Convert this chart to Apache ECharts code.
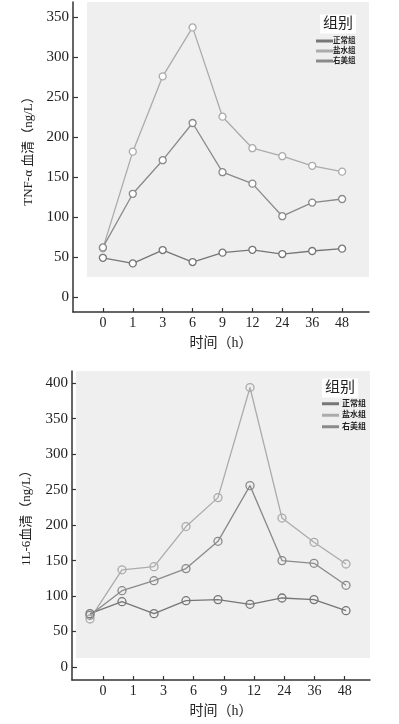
<!DOCTYPE html>
<html>
<head>
<meta charset="utf-8">
<script src="https://cdn.jsdelivr.net/npm/echarts@6/dist/echarts.min.js"></script>
<style>
  html, body { margin: 0; padding: 0; background: #fff; }
  #chart { width: 399px; height: 724px; }
</style>
</head>
<body>
<div id="chart"></div>
<script>
const cats = ["0", "1", "3", "6", "9", "12", "24", "36", "48"];
const groupNames = ["正常组", "盐水组", "右美组"];
const groupColors = ["#767676", "#ababab", "#8a8a8a"];

const tnfNormal = [49, 42, 58.7, 43.7, 55.4, 59, 53.7, 57.5, 60.4];
const tnfSaline = [60.8, 181.7, 275.8, 337, 225.4, 186, 176, 164, 156.7];
const tnfDex = [62, 129, 171, 217.5, 156, 141.7, 101, 118, 122.5];

const il6Normal = [75.2, 92.1, 75.2, 93.5, 95, 88.4, 97.3, 95, 79.4];
const il6Saline = [67.7, 137, 141.5, 198, 238.8, 394, 210, 175.8, 145.2];
const il6Dex = [72.9, 107.6, 121.7, 138.7, 177.2, 255.7, 150, 146.2, 115.2];

const tnfTicks = [0, 50, 100, 150, 200, 250, 300, 350];
const il6Ticks = [0, 50, 100, 150, 200, 250, 300, 350, 400];
const catIdx = cats.map((c, i) => i);

const serif = "Liberation Serif, DejaVu Serif, serif";
const cjk = "Liberation Serif, Noto Sans CJK SC, sans-serif";

const chart = echarts.init(document.getElementById("chart"));

function pairs(arr) {
  return arr.map((v, i) => [i, v]);
}

function yAxisOf(gridIndex, min, max, ticks) {
  return {
    gridIndex: gridIndex,
    type: "value",
    min: min,
    max: max,
    splitLine: { show: false },
    axisLine: { show: true, onZero: false, lineStyle: { color: "#333", width: 1.5 } },
    axisTick: { show: true, inside: true, length: 5, customValues: ticks, lineStyle: { color: "#333", width: 1.2 } },
    axisLabel: { customValues: ticks, margin: 4, color: "#222", fontSize: 15, fontFamily: serif },
  };
}

function catAxisOf(gridIndex, min, max) {
  return {
    gridIndex: gridIndex,
    type: "value",
    min: min,
    max: max,
    splitLine: { show: false },
    axisLine: { show: true, onZero: false, lineStyle: { color: "#333", width: 1.5 } },
    axisTick: { show: true, inside: true, length: 4, customValues: catIdx, lineStyle: { color: "#333", width: 1.2 } },
    axisLabel: {
      customValues: catIdx,
      margin: 4,
      color: "#222",
      fontSize: 14,
      fontFamily: serif,
      formatter: (v) => cats[Math.round(v)],
    },
  };
}

function lineSeries(name, color, xi, yi, data, size, fill) {
  return {
    name: name,
    type: "line",
    xAxisIndex: xi,
    yAxisIndex: yi,
    z: 3,
    data: pairs(data),
    symbol: "circle",
    symbolSize: size,
    lineStyle: { color: color, width: 1.3 },
    itemStyle: { color: fill, borderColor: color, borderWidth: 1.3 },
    emphasis: { disabled: true },
  };
}

function bgSeries(xi, yi, from, to) {
  return {
    type: "line",
    xAxisIndex: xi,
    yAxisIndex: yi,
    z: 1,
    data: [],
    markArea: {
      silent: true,
      itemStyle: { color: "#efefef" },
      data: [[{ xAxis: from[0], yAxis: from[1] }, { xAxis: to[0], yAxis: to[1] }]],
    },
  };
}

function legendOf(left, top, size, lh, gap) {
  return {
    orient: "vertical",
    left: left,
    top: top,
    padding: 0,
    itemGap: 0,
    icon: "rect",
    itemWidth: 15,
    itemHeight: 1,
    selectedMode: false,
    textStyle: {
      fontSize: size,
      fontWeight: "bold",
      color: "#222",
      fontFamily: cjk,
      lineHeight: lh,
      padding: [0, 0, 0, gap - 5],
    },
    data: groupNames.map((n, i) => ({ name: n, itemStyle: { color: groupColors[i] } })),
  };
}

function textEl(x, y, text, size, rotate, bg) {
  return {
    type: "text",
    z: 100,
    x: x,
    y: y,
    rotation: rotate ? Math.PI / 2 : 0,
    style: {
      text: text,
      fontSize: size,
      fontFamily: cjk,
      fill: "#222",
      align: "center",
      verticalAlign: "middle",
      backgroundColor: bg || "transparent",
      padding: bg ? [2, 3] : 0,
    },
  };
}

chart.setOption({
  backgroundColor: "#fff",
  animation: false,
  grid: [
    { left: 73, top: 2, width: 296, height: 310 },
    { left: 72, top: 371, width: 298, height: 309 },
  ],
  xAxis: [
    catAxisOf(0, -1, 8.9),
    catAxisOf(1, -1.026, 8.84),
    { gridIndex: 1, type: "value", min: -0.5625, max: 8.75, show: false },
  ],
  yAxis: [
    yAxisOf(0, -18.75, 368.75, tnfTicks),
    yAxisOf(1, -18.33, 417.3, il6Ticks),
  ],
  legend: [legendOf(316, 36, 7.5, 10, 1), legendOf(322, 398, 8, 11.5, 4)],
  series: [
    bgSeries(0, 0, [-0.535, 25], [8.9, 368.75]),
    lineSeries(groupNames[0], groupColors[0], 0, 0, tnfNormal, 7, "#fff"),
    lineSeries(groupNames[1], groupColors[1], 0, 0, tnfSaline, 7, "#fff"),
    lineSeries(groupNames[2], groupColors[2], 0, 0, tnfDex, 7, "#fff"),
    bgSeries(2, 1, [-0.44, 12.7], [8.75, 417.3]),
    lineSeries(groupNames[0], groupColors[0], 2, 1, il6Normal, 8, "transparent"),
    lineSeries(groupNames[1], groupColors[1], 2, 1, il6Saline, 8, "transparent"),
    lineSeries(groupNames[2], groupColors[2], 2, 1, il6Dex, 8, "transparent"),
  ],
  graphic: {
    elements: [
      textEl(29, 148, "TNF-α 血清（ng/L）", 13, true),
      textEl(221, 343, "时间（h）", 14, false),
      textEl(338, 24, "组别", 15, false, "#fff"),
      textEl(27, 515, "1L-6血清（ng/L）", 13, true),
      textEl(221, 711, "时间（h）", 14, false),
      textEl(340, 388, "组别", 15, false, "#fff"),
    ],
  },
});
</script>
</body>
</html>
